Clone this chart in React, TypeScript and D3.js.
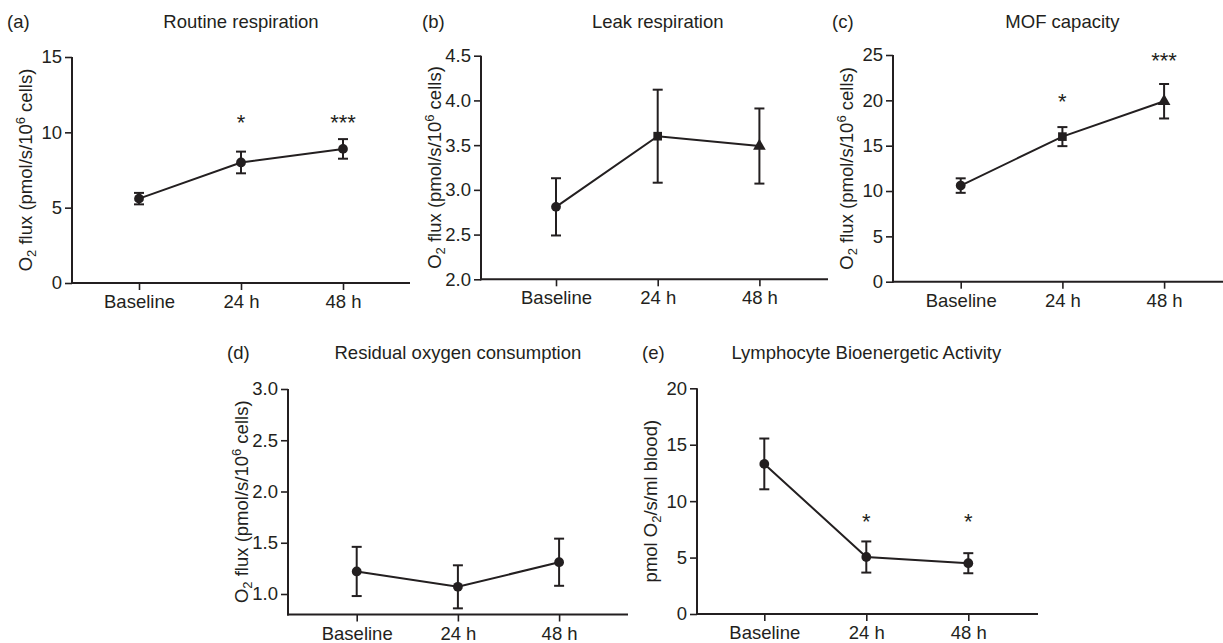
import React, { useRef, useEffect } from 'react';
import * as d3 from 'd3';

// shared x categories
const categories = ['Baseline', '24 h', '48 h'];

// (a) Routine respiration
const routineMean = [5.6, 8.0, 8.9];
const routineErr = [0.38, 0.72, 0.65];
const routineStars = ['', '*', '***'];
const routineStarLevel = [0, 11, 11];
const routineTicks = [0, 5, 10, 15];

// (b) Leak respiration
const leakMean = [2.81, 3.6, 3.49];
const leakErr = [0.32, 0.52, 0.42];
const leakTicks = [2.0, 2.5, 3.0, 3.5, 4.0, 4.5];

// (c) MOF capacity
const mofMean = [10.6, 16.0, 19.9];
const mofErr = [0.8, 1.05, 1.9];
const mofStars = ['', '*', '***'];
const mofStarLevel = [0, 20.4, 25];
const mofTicks = [0, 5, 10, 15, 20, 25];

// (d) Residual oxygen consumption
const roxMean = [1.22, 1.07, 1.31];
const roxErr = [0.24, 0.21, 0.23];
const roxTicks = [1.0, 1.5, 2.0, 2.5, 3.0];

// (e) Lymphocyte Bioenergetic Activity
const lbaMean = [13.3, 5.05, 4.5];
const lbaErr = [2.25, 1.38, 0.89];
const lbaStars = ['', '*', '*'];
const lbaStarLevel = [0, 8.6, 8.6];
const lbaTicks = [0, 5, 10, 15, 20];

const INK = '#231f20';
const FONT = '"Liberation Sans", Arial, Helvetica, sans-serif';
const FS = 18.5;
const SUB = 13;
const STAR_FS = 22;

const panels = [
    {
        letter: '(a)', title: 'Routine respiration', mean: routineMean, err: routineErr,
        markers: ['circle', 'circle', 'circle'], stars: routineStars, starLevel: routineStarLevel,
        domain: [0, 15], ticks: routineTicks, fmt: d3.format('d'), label: 'flux',
        left: 72, right: 410, top: 57, bottom: 283, first: 139, step: 102, letterX: 7, titleY: 28,
    },
    {
        letter: '(b)', title: 'Leak respiration', mean: leakMean, err: leakErr,
        markers: ['circle', 'square', 'triangle'], stars: null, starLevel: null,
        domain: [2, 4.5], ticks: leakTicks, fmt: d3.format('.1f'), label: 'flux',
        left: 481, right: 828, top: 55.7, bottom: 279.3, first: 556, step: 101.7, letterX: 422, titleY: 28,
    },
    {
        letter: '(c)', title: 'MOF capacity', mean: mofMean, err: mofErr,
        markers: ['circle', 'square', 'triangle'], stars: mofStars, starLevel: mofStarLevel,
        domain: [0, 25], ticks: mofTicks, fmt: d3.format('d'), label: 'flux',
        left: 893, right: 1223, top: 55, bottom: 281.7, first: 960.7, step: 101.7, letterX: 832, titleY: 28,
    },
    {
        letter: '(d)', title: 'Residual oxygen consumption', mean: roxMean, err: roxErr,
        markers: ['circle', 'circle', 'circle'], stars: null, starLevel: null,
        domain: [0.8, 3.0], ticks: roxTicks, fmt: d3.format('.1f'), label: 'flux',
        left: 288, right: 628, top: 389, bottom: 614.5, first: 356.7, step: 101.2, letterX: 227, titleY: 359,
    },
    {
        letter: '(e)', title: 'Lymphocyte Bioenergetic Activity', mean: lbaMean, err: lbaErr,
        markers: ['circle', 'circle', 'circle'], stars: lbaStars, starLevel: lbaStarLevel,
        domain: [0, 20], ticks: lbaTicks, fmt: d3.format('d'), label: 'blood',
        left: 697, right: 1038, top: 388.3, bottom: 614, first: 764.3, step: 102, letterX: 642, titleY: 359,
    },
];

function drawPanel(svg, p) {
    const g = svg.append('g');
    const x = d3.scalePoint().domain(categories).range([p.first, p.first + 2 * p.step]);
    const y = d3.scaleLinear().domain(p.domain).range([p.bottom, p.top]);

    // axes
    const yAxis = g.append('g')
        .attr('transform', 'translate(' + p.left + ',0)')
        .call(d3.axisLeft(y).tickValues(p.ticks).tickFormat(p.fmt).tickSize(7).tickPadding(3));
    const xAxis = g.append('g')
        .attr('transform', 'translate(0,' + p.bottom + ')')
        .call(d3.axisBottom(x).tickSize(7).tickPadding(5));
    [yAxis, xAxis].forEach((a) => {
        a.select('.domain').remove();
        a.selectAll('line').attr('stroke', INK).attr('stroke-width', 1.6);
        a.selectAll('text').attr('fill', INK).attr('font-size', FS).attr('font-family', FONT);
    });
    g.append('line')
        .attr('x1', p.left).attr('x2', p.left).attr('y1', p.top).attr('y2', p.bottom + 1)
        .attr('stroke', INK).attr('stroke-width', 2);
    g.append('line')
        .attr('x1', p.left - 1).attr('x2', p.right).attr('y1', p.bottom).attr('y2', p.bottom)
        .attr('stroke', INK).attr('stroke-width', 2);

    const pts = categories.map((c, i) => ({ c, v: p.mean[i], e: p.err[i], m: p.markers[i] }));

    // error bars
    const eb = g.append('g').attr('stroke', INK).attr('stroke-width', 2);
    pts.forEach((d) => {
        const cx = x(d.c);
        const y1 = y(d.v + d.e);
        const y0 = y(d.v - d.e);
        eb.append('line').attr('x1', cx).attr('x2', cx).attr('y1', y1).attr('y2', y0);
        eb.append('line').attr('x1', cx - 5).attr('x2', cx + 5).attr('y1', y1).attr('y2', y1);
        eb.append('line').attr('x1', cx - 5).attr('x2', cx + 5).attr('y1', y0).attr('y2', y0);
    });

    // connecting line
    const line = d3.line().x((d) => x(d.c)).y((d) => y(d.v));
    g.append('path').datum(pts).attr('d', line)
        .attr('fill', 'none').attr('stroke', INK).attr('stroke-width', 2);

    // markers
    const symbolOf = { circle: d3.symbolCircle, square: d3.symbolSquare, triangle: d3.symbolTriangle };
    const sizeOf = { circle: 75, square: 75, triangle: 70 };
    g.selectAll('.mk').data(pts).enter().append('path')
        .attr('transform', (d) => 'translate(' + x(d.c) + ',' + y(d.v) + ')')
        .attr('d', (d) => d3.symbol().type(symbolOf[d.m]).size(sizeOf[d.m])())
        .attr('fill', INK);

    // significance stars
    if (p.stars) {
        g.selectAll('.star').data(pts).enter().append('text')
            .attr('x', (d) => x(d.c))
            .attr('y', (d, i) => y(p.starLevel[i]) + 12.5)
            .attr('text-anchor', 'middle')
            .attr('font-size', STAR_FS).attr('font-family', FONT).attr('fill', INK)
            .text((d, i) => p.stars[i]);
    }

    // title and letter
    g.append('text')
        .attr('x', x('24 h')).attr('y', p.titleY)
        .attr('text-anchor', 'middle')
        .attr('font-size', FS).attr('font-family', FONT).attr('fill', INK)
        .text(p.title);
    g.append('text')
        .attr('x', p.letterX).attr('y', p.titleY)
        .attr('font-size', FS).attr('font-family', FONT).attr('fill', INK)
        .text(p.letter);

    // y label
    const lab = g.append('text')
        .attr('transform', 'translate(' + (p.left - 40.5) + ',' + (p.top + p.bottom) / 2 + ') rotate(-90)')
        .attr('text-anchor', 'middle')
        .attr('font-size', FS).attr('font-family', FONT).attr('fill', INK);
    if (p.label === 'flux') {
        lab.append('tspan').text('O');
        lab.append('tspan').attr('font-size', SUB).attr('dy', 4).text('2');
        lab.append('tspan').attr('dy', -4).text(' flux (pmol/s/10');
        lab.append('tspan').attr('font-size', SUB).attr('dy', -7).text('6');
        lab.append('tspan').attr('dy', 7).text(' cells)');
    } else {
        lab.append('tspan').text('pmol O');
        lab.append('tspan').attr('font-size', SUB).attr('dy', 4).text('2');
        lab.append('tspan').attr('dy', -4).text('/s/ml blood)');
    }
}

function App() {
    const ref = useRef(null);

    useEffect(() => {
        const svg = d3.select(ref.current);
        svg.selectAll('*').remove();
        panels.forEach((p) => drawPanel(svg, p));
    }, []);

    return (
        <svg
            ref={ref}
            width={1223}
            height={643}
            style={{ position: 'absolute', left: 0, top: 0, background: '#fff' }}
        />
    );
}

export default App;
